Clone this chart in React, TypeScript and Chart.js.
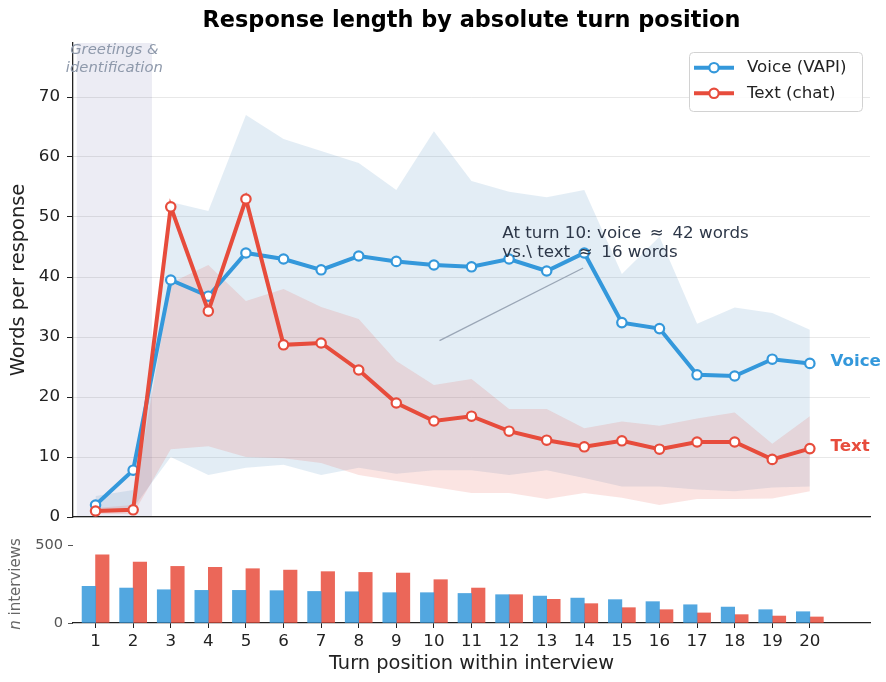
import React, { useEffect, useRef } from "react";
import { Chart, registerables } from "chart.js";

Chart.register(...registerables);

const FONT = "'DejaVu Sans', 'Liberation Sans', sans-serif";
const BLUE = "#3498db";
const RED = "#e74c3c";

// ---- data ----
const turns = [1, 2, 3, 4, 5, 6, 7, 8, 9, 10, 11, 12, 13, 14, 15, 16, 17, 18, 19, 20];
const voiceMedian = [2.0, 7.8, 39.5, 36.8, 44.0, 43.0, 41.2, 43.5, 42.6, 42.0, 41.7, 43.0, 41.0, 44.0, 32.4, 31.4, 23.7, 23.5, 26.3, 25.6];
const textMedian = [1.0, 1.2, 51.7, 34.3, 53.0, 28.7, 29.0, 24.5, 19.0, 16.0, 16.8, 14.3, 12.8, 11.7, 12.7, 11.3, 12.5, 12.5, 9.6, 11.4];
const voiceQ3 = [3.5, 4.5, 52.5, 51.0, 67.0, 63.0, 61.0, 59.0, 54.5, 64.3, 56.0, 54.2, 53.3, 54.5, 40.5, 46.7, 32.2, 34.9, 34.0, 31.2];
const voiceQ1 = [1.0, 1.5, 10.0, 7.0, 8.2, 8.7, 7.0, 8.2, 7.2, 7.8, 7.8, 7.0, 7.8, 6.5, 5.1, 5.1, 4.6, 4.3, 4.9, 5.1];
const textQ3 = [1.5, 2.0, 39.0, 42.0, 36.0, 38.0, 35.0, 33.0, 26.0, 22.0, 23.0, 18.0, 18.0, 14.8, 15.9, 15.2, 16.4, 17.4, 12.2, 16.8];
const textQ1 = [0.5, 0.5, 11.3, 11.8, 10.0, 9.8, 9.0, 7.0, 6.0, 5.0, 4.0, 4.0, 3.0, 4.0, 3.2, 2.0, 3.0, 3.0, 3.1, 4.3];
const voiceN = [237, 226, 215, 211, 211, 209, 204, 202, 196, 196, 191, 183, 174, 161, 151, 138, 118, 103, 86, 73];
const textN = [441, 394, 366, 360, 351, 342, 332, 327, 323, 280, 226, 183, 153, 125, 99, 86, 65, 54, 45, 39];
const yTicksMain = [0, 10, 20, 30, 40, 50, 60, 70];
const yTicksN = [0, 500];
const seriesLabels = ["Voice (VAPI)", "Text (chat)"];

const pts = (arr: number[]) => turns.map((t, i) => ({ x: t, y: arr[i] }));

const LINE_W = 4;
const PT_R = 4.7;
const PT_BW = 2.2;

export default function App() {
  const mainRef = useRef<HTMLCanvasElement>(null);
  const barRef = useRef<HTMLCanvasElement>(null);

  useEffect(() => {
    const decor = {
      id: "mainDecor",
      beforeDraw(chart: any) {
        const { ctx, chartArea: a, scales } = chart;
        const x0 = scales.x.getPixelForValue(0.5);
        const x1 = scales.x.getPixelForValue(2.5);
        ctx.save();
        ctx.fillStyle = "rgba(170,170,205,0.22)";
        ctx.fillRect(x0, a.top, x1 - x0, a.bottom - a.top);
        ctx.restore();
      },
      afterDraw(chart: any) {
        const { ctx, chartArea: a, scales } = chart;
        const X = (v: number) => scales.x.getPixelForValue(v);
        const Y = (v: number) => scales.y.getPixelForValue(v);
        ctx.save();
        // title
        ctx.fillStyle = "#000";
        ctx.font = `bold 22.4px ${FONT}`;
        ctx.textAlign = "center";
        ctx.textBaseline = "middle";
        ctx.fillText("Response length by absolute turn position", (a.left + a.right) / 2, 21);
        // greetings label
        ctx.fillStyle = "#8e99ab";
        ctx.font = `italic 14.8px ${FONT}`;
        ctx.fillText("Greetings &", X(1.5), a.top + 7);
        ctx.fillText("identification", X(1.5), a.top + 25);
        // annotation arrow
        ctx.strokeStyle = "#9aa6b6";
        ctx.lineWidth = 1.3;
        ctx.beginPath();
        ctx.moveTo(X(10.15), Y(29.4));
        ctx.lineTo(X(13.97), Y(41.5));
        ctx.stroke();
        ctx.fillStyle = "#2d3748";
        ctx.font = `16.7px ${FONT}`;
        ctx.textAlign = "left";
        ctx.fillText("At turn 10: voice \u2009\u2248\u2009 42 words", X(11.82), Y(47.3));
        ctx.fillText("vs.\\ text \u2009\u2248\u2009 16 words", X(11.82), Y(44.05));
        // end labels
        ctx.font = `bold 16.7px ${FONT}`;
        ctx.fillStyle = BLUE;
        ctx.fillText("Voice", X(20.55), Y(voiceMedian[voiceMedian.length - 1]) - 1.5);
        ctx.fillStyle = RED;
        ctx.fillText("Text", X(20.55), Y(textMedian[textMedian.length - 1]) - 1.5);
        // legend
        const bx = 689, by = 52, bw = 173, bh = 59;
        ctx.fillStyle = "rgba(255,255,255,0.85)";
        ctx.strokeStyle = "#d2d2d2";
        ctx.lineWidth = 1;
        ctx.beginPath();
        (ctx as any).roundRect(bx + 0.5, by + 0.5, bw, bh, 4);
        ctx.fill();
        ctx.stroke();
        const entries = [
          { label: seriesLabels[0], color: BLUE, y: 67.7 },
          { label: seriesLabels[1], color: RED, y: 93.3 },
        ];
        for (const e of entries) {
          ctx.strokeStyle = e.color;
          ctx.lineWidth = LINE_W;
          ctx.beginPath();
          ctx.moveTo(694, e.y);
          ctx.lineTo(734, e.y);
          ctx.stroke();
          ctx.beginPath();
          ctx.arc(714, e.y, PT_R, 0, Math.PI * 2);
          ctx.fillStyle = "#fff";
          ctx.fill();
          ctx.lineWidth = PT_BW;
          ctx.stroke();
          ctx.fillStyle = "#222";
          ctx.font = `16.7px ${FONT}`;
          ctx.textAlign = "left";
          ctx.fillText(e.label, 747, e.y);
        }
        ctx.restore();
      },
    };

    const lineDs = (label: string, arr: number[], color: string) => ({
      label,
      data: pts(arr),
      borderColor: color,
      borderWidth: LINE_W,
      pointRadius: PT_R,
      pointBorderWidth: PT_BW,
      pointBackgroundColor: "#fff",
      pointBorderColor: color,
      fill: false,
      tension: 0,
    });

    const c1 = new Chart(mainRef.current as HTMLCanvasElement, {
      type: "line",
      data: {
        datasets: [
          lineDs(seriesLabels[1], textMedian, RED),
          lineDs(seriesLabels[0], voiceMedian, BLUE),
          {
            label: "text q3",
            data: pts(textQ3),
            borderWidth: 0,
            pointRadius: 0,
            fill: "+1",
            backgroundColor: "rgba(231,76,60,0.15)",
            tension: 0,
          },
          { label: "text q1", data: pts(textQ1), borderWidth: 0, pointRadius: 0, fill: false, tension: 0 },
          {
            label: "voice q3",
            data: pts(voiceQ3),
            borderWidth: 0,
            pointRadius: 0,
            fill: "+1",
            backgroundColor: "rgba(80,140,190,0.16)",
            tension: 0,
          },
          { label: "voice q1", data: pts(voiceQ1), borderWidth: 0, pointRadius: 0, fill: false, tension: 0 },
        ],
      },
      options: {
        responsive: false,
        animation: false,
        devicePixelRatio: 1,
        events: [],
        layout: { padding: { top: 43, right: 16, bottom: 165, left: 0 } },
        plugins: { legend: { display: false }, tooltip: { enabled: false }, title: { display: false } },
        scales: {
          x: {
            type: "linear",
            min: 0.4,
            max: 21.6,
            offset: false,
            ticks: { display: false },
            grid: { display: false, drawTicks: false },
            border: { display: true, color: "#222", width: 1.3 },
            afterFit: (s: any) => {
              s.height = 0;
            },
          },
          y: {
            min: 0,
            max: 79,
            afterBuildTicks: (s: any) => {
              s.ticks = yTicksMain.map((v) => ({ value: v }));
            },
            ticks: { font: { family: FONT, size: 16.7 }, color: "#222", padding: 7 },
            grid: { color: "rgba(0,0,0,0.09)", tickColor: "#222", tickLength: 6, lineWidth: 1 },
            border: { color: "#222", width: 1.3 },
            title: {
              display: true,
              text: "Words per response",
              font: { family: FONT, size: 19.4 },
              color: "#222",
              padding: { top: 7, bottom: 0 },
            },
            afterFit: (s: any) => {
              s.width = 73;
            },
          },
        },
      } as any,
      plugins: [decor],
    });

    const nLabel = {
      id: "nLabel",
      afterDraw(chart: any) {
        const { ctx } = chart;
        ctx.save();
        ctx.translate(16, 584);
        ctx.rotate(-Math.PI / 2);
        ctx.fillStyle = "#666";
        ctx.textBaseline = "middle";
        ctx.textAlign = "left";
        const fi = `italic 15px ${FONT}`;
        const fn = `15px ${FONT}`;
        ctx.font = fi;
        const w1 = ctx.measureText("n").width;
        ctx.font = fn;
        const w2 = ctx.measureText(" interviews").width;
        const start = -(w1 + w2) / 2;
        ctx.font = fi;
        ctx.fillText("n", start, 0);
        ctx.font = fn;
        ctx.fillText(" interviews", start + w1, 0);
        ctx.restore();
      },
    };

    const c2 = new Chart(barRef.current as HTMLCanvasElement, {
      type: "bar",
      data: {
        datasets: [
          { label: "Voice n", data: pts(voiceN), backgroundColor: "rgba(52,152,219,0.85)", barThickness: 13.5 },
          { label: "Text n", data: pts(textN), backgroundColor: "rgba(231,76,60,0.85)", barThickness: 13.5 },
        ],
      },
      options: {
        responsive: false,
        animation: false,
        devicePixelRatio: 1,
        events: [],
        layout: { padding: { top: 535, right: 16, bottom: 0, left: 0 } },
        plugins: { legend: { display: false }, tooltip: { enabled: false }, title: { display: false } },
        scales: {
          x: {
            type: "linear",
            min: 0.4,
            max: 21.6,
            offset: false,
            afterBuildTicks: (s: any) => {
              s.ticks = turns.map((v) => ({ value: v }));
            },
            ticks: { font: { family: FONT, size: 16.7 }, color: "#222", padding: 4, autoSkip: false, maxRotation: 0 },
            grid: { offset: false, drawOnChartArea: false, tickLength: 5, tickColor: "#222" },
            border: { color: "#222", width: 1.3 },
            title: {
              display: true,
              text: "Turn position within interview",
              font: { family: FONT, size: 19.4 },
              color: "#222",
              padding: { top: 0, bottom: 6 },
            },
            afterFit: (s: any) => {
              s.height = 59;
            },
          },
          y: {
            min: 0,
            max: 569,
            afterBuildTicks: (s: any) => {
              s.ticks = yTicksN.map((v) => ({ value: v }));
            },
            ticks: { font: { family: FONT, size: 14.6 }, color: "#555", padding: 5 },
            grid: { drawOnChartArea: false, tickLength: 5, tickColor: "#555" },
            border: { display: false },
            afterFit: (s: any) => {
              s.width = 73;
            },
          },
        },
      } as any,
      plugins: [nLabel],
    });

    return () => {
      c1.destroy();
      c2.destroy();
    };
  }, []);

  return (
    <div style={{ position: "absolute", left: 0, top: 0, width: 886, height: 682, background: "#fff" }}>
      <canvas ref={mainRef} width={886} height={682} style={{ position: "absolute", left: 0, top: 0 }} />
      <canvas ref={barRef} width={886} height={682} style={{ position: "absolute", left: 0, top: 0 }} />
    </div>
  );
}
